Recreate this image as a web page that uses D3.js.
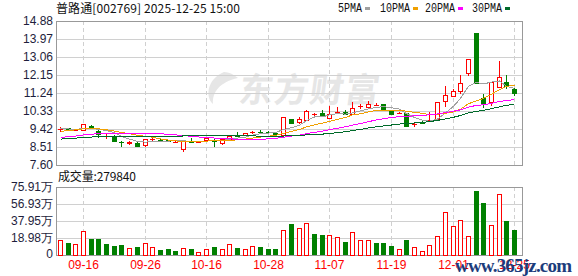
<!DOCTYPE html>
<html>
<head>
<meta charset="utf-8">
<script src="https://cdn.jsdelivr.net/npm/d3@7"></script>
<style>
  html, body { margin: 0; padding: 0; background: #fff; }
  svg { display: block; }
</style>
</head>
<body>
<div id="chart"></div>
<script>
const dates = [
  "09-11", "09-12", "09-15", "09-16", "09-17", "09-18", "09-19", "09-22", "09-23", "09-24",
  "09-25", "09-26", "09-29", "09-30", "10-09", "10-10", "10-13", "10-14", "10-15", "10-16",
  "10-17", "10-20", "10-21", "10-22", "10-23", "10-24", "10-27", "10-28", "10-29", "10-30",
  "10-31", "11-03", "11-04", "11-05", "11-06", "11-07", "11-10", "11-11", "11-12", "11-13",
  "11-14", "11-17", "11-18", "11-19", "11-20", "11-21", "11-24", "11-25", "11-26", "11-27",
  "11-28", "12-01", "12-16", "12-17", "12-18", "12-19", "12-22", "12-23", "12-24", "12-25"
];
const opens = [
  9.40, 9.46, 9.38, 9.38, 9.57, 9.32, 9.06, 9.00, 8.77, 8.71,
  8.73, 8.59, 8.90, 8.88, 8.84, 8.76, 8.42, 8.80, 8.76, 8.85,
  8.82, 8.69, 8.93, 9.13, 9.14, 9.26, 9.28, 9.27, 9.24, 9.12,
  9.92, 9.76, 9.86, 10.17, 10.21, 10.00, 10.26, 10.30, 10.20, 10.58,
  10.55, 10.65, 10.66, 10.33, 10.24, 10.22, 9.66, 9.78, 9.82, 9.95,
  10.82, 11.10, 11.36, 12.27, 14.27, 11.00, 10.77, 11.56, 11.79, 11.43
];
const highs = [
  9.50, 9.48, 9.42, 9.68, 9.61, 9.35, 9.15, 9.10, 8.80, 8.80,
  8.75, 8.92, 8.99, 8.95, 8.86, 8.80, 8.82, 8.98, 8.80, 8.98,
  8.94, 8.90, 9.10, 9.27, 9.24, 9.33, 9.35, 9.30, 9.25, 10.03,
  9.93, 10.02, 10.38, 10.25, 10.38, 10.58, 10.53, 10.38, 10.78, 10.68,
  10.85, 10.72, 10.68, 10.38, 10.30, 10.24, 9.76, 9.80, 10.30, 10.80,
  11.59, 11.45, 12.15, 12.96, 14.27, 11.19, 11.80, 12.86, 12.15, 11.47
];
const lows = [
  9.28, 9.35, 9.36, 9.35, 9.43, 8.94, 8.92, 8.78, 8.50, 8.62,
  8.55, 8.52, 8.80, 8.80, 8.74, 8.70, 8.26, 8.72, 8.74, 8.83,
  8.53, 8.62, 8.91, 9.06, 9.12, 9.17, 9.18, 9.20, 9.15, 9.08,
  9.70, 9.65, 9.84, 10.08, 10.03, 9.93, 10.16, 10.17, 10.18, 10.45,
  10.52, 10.58, 10.34, 10.15, 10.18, 9.50, 9.54, 9.68, 9.78, 9.82,
  10.55, 11.05, 11.20, 12.12, 11.70, 10.50, 10.57, 11.48, 11.42, 11.07
];
const closes = [
  9.41, 9.37, 9.39, 9.66, 9.45, 9.15, 9.06, 8.82, 8.75, 8.76,
  8.57, 8.89, 8.91, 8.85, 8.80, 8.76, 8.80, 8.76, 8.78, 8.96,
  8.79, 8.89, 9.09, 9.08, 9.22, 9.27, 9.26, 9.25, 9.19, 10.01,
  9.71, 9.91, 10.34, 10.17, 10.06, 10.17, 10.26, 10.20, 10.47, 10.58,
  10.68, 10.65, 10.37, 10.18, 10.24, 9.56, 9.66, 9.72, 9.88, 10.78,
  11.12, 11.33, 11.73, 12.96, 11.73, 10.75, 11.78, 12.03, 11.59, 11.23
];
const volumes = [
  164000, 134000, 119000, 264000, 179000, 179000, 119000, 100000, 112000, 74000,
  89000, 130000, 86000, 60000, 67000, 45000, 74000, 67000, 30000, 67000,
  89000, 67000, 119000, 78000, 63000, 100000, 89000, 67000, 67000, 276000,
  346000, 301000, 354000, 234000, 223000, 220000, 201000, 145000, 253000, 164000,
  164000, 134000, 134000, 102000, 63000, 164000, 86000, 48000, 108000, 212000,
  476000, 320000, 387000, 209000, 714000, 577000, 332000, 678000, 380000, 279840
];
// closes before the first day shown, only used so the averages start where the picture has them
const priorCloses = [
  8.62, 8.70, 8.75, 8.68, 8.80, 8.72, 8.66, 8.78, 8.74, 8.85,
  8.80, 8.66, 8.58, 8.64, 8.70, 8.62, 8.75, 8.68, 8.77, 8.80,
  8.95, 9.05, 9.12, 9.25, 9.38, 9.52, 9.48, 9.45, 9.39
];

const priceTicks = [7.60, 8.51, 9.42, 10.33, 11.24, 12.15, 13.06, 13.97, 14.88];
const volumeTicks = [0, 189800, 379500, 569300, 759100];
const volumeTickLabels = ["0", "18.98万", "37.95万", "56.93万", "75.91万"];
const labelIndexes = [3, 11, 19, 27, 35, 43, 51, 59];
const maPeriods = [5, 10, 20, 30];
const maNames = ["5PMA", "10PMA", "20PMA", "30PMA"];

const colors = {
  up: "#ff0000",
  down: "#008000",
  grid: "#d0d0d0",
  border: "#999999",
  text: "#1e1e3c",
  date: "#ff0000",
  ma: ["#a0a0a0", "#f0a000", "#ff00ff", "#006a2a"],
  watermark: "#e6e6e6",
};

const layout = {
  width: 578,
  height: 276,
  left: 56,
  right: 522,
  barsRight: 518,
  priceTop: 21,
  priceBottom: 165,
  volTop: 187,
  volBottom: 255,
  bodyWidth: 5,
};

const svg = d3.select("#chart").append("svg")
  .attr("width", layout.width)
  .attr("height", layout.height)
  .style("font-family", "'Liberation Sans', Arial, sans-serif");

const x = d3.scaleBand()
  .domain(d3.range(dates.length))
  .range([layout.left, layout.barsRight]);
const cx = (i) => Math.round(x(i) + x.bandwidth() / 2);

const y = d3.scaleLinear()
  .domain([priceTicks[0], priceTicks[priceTicks.length - 1]])
  .range([layout.priceBottom, layout.priceTop]);
const yv = d3.scaleLinear()
  .domain([0, volumeTicks[volumeTicks.length - 1]])
  .range([layout.volBottom, layout.volTop]);

const px = (v) => Math.round(v) + 0.5;

// moving averages over prior + shown closes
const allCloses = priorCloses.concat(closes);
const movingAverages = maPeriods.map((n) =>
  closes.map((c, i) => {
    const end = priorCloses.length + i + 1;
    return d3.mean(allCloses.slice(end - n, end));
  })
);

// volume colour follows the previous close
const volumeUp = closes.map((c, i) => {
  const prev = i === 0 ? priorCloses[priorCloses.length - 1] : closes[i - 1];
  return c >= prev;
});

// ---- watermark behind everything
svg.append("path")
  .attr("d", "M224 72 C207 79 205 97 213 104 C212 92 220 82 238 78 C233 74 229 72 224 72 Z")
  .attr("fill", colors.watermark);
svg.append("text")
  .attr("x", 238).attr("y", 102)
  .attr("fill", colors.watermark)
  .attr("font-family", "'Noto Sans CJK SC', sans-serif")
  .attr("font-weight", "bold")
  .attr("font-size", 34)
  .attr("textLength", 140)
  .attr("transform", "skewX(-8) translate(14,0)")
  .text("东方财富");

// ---- grids
function drawGrid(scale, ticks, top, bottom) {
  const g = svg.append("g").attr("shape-rendering", "crispEdges");
  g.selectAll("line.h")
    .data(ticks.slice(1, -1))
    .join("line")
    .attr("x1", layout.left).attr("x2", layout.right)
    .attr("y1", (d) => px(scale(d))).attr("y2", (d) => px(scale(d)))
    .attr("stroke", colors.grid);
  g.selectAll("line.v")
    .data(labelIndexes)
    .join("line")
    .attr("x1", (i) => cx(i) + 0.5).attr("x2", (i) => cx(i) + 0.5)
    .attr("y1", top).attr("y2", bottom)
    .attr("stroke", colors.grid)
    .attr("stroke-dasharray", "4,3");
  g.append("rect")
    .attr("x", layout.left + 0.5).attr("y", top + 0.5)
    .attr("width", layout.right - layout.left).attr("height", bottom - top)
    .attr("fill", "none")
    .attr("stroke", colors.border);
}
drawGrid(y, priceTicks, layout.priceTop, layout.priceBottom);
drawGrid(yv, volumeTicks, layout.volTop, layout.volBottom);

// ---- axis labels
svg.append("g")
  .selectAll("text")
  .data(priceTicks)
  .join("text")
  .attr("x", 53).attr("y", (d) => y(d))
  .attr("dy", "0.35em")
  .attr("text-anchor", "end")
  .attr("font-size", 12)
  .attr("fill", colors.text)
  .text((d) => d.toFixed(2));

svg.append("g")
  .selectAll("text")
  .data(volumeTicks)
  .join("text")
  .attr("x", 53).attr("y", (d) => yv(d) - (d === 0 ? 1 : 0))
  .attr("dy", "0.35em")
  .attr("text-anchor", "end")
  .attr("font-size", 12)
  .attr("fill", colors.text)
  .text((d, i) => volumeTickLabels[i]);

svg.append("g")
  .selectAll("text")
  .data(labelIndexes)
  .join("text")
  .attr("x", (i) => cx(i) + 0.5).attr("y", 269)
  .attr("text-anchor", "middle")
  .attr("font-size", 12)
  .attr("fill", colors.date)
  .text((i) => dates[i]);

// ---- candles
const candles = svg.append("g").attr("shape-rendering", "crispEdges");
dates.forEach((d, i) => {
  const up = closes[i] >= opens[i];
  const c = up ? colors.up : colors.down;
  const xc = cx(i) + 0.5;
  const yTop = Math.round(y(Math.max(opens[i], closes[i])));
  const yBot = Math.round(y(Math.min(opens[i], closes[i])));
  const yHi = Math.round(y(highs[i]));
  const yLo = Math.round(y(lows[i]));
  const half = Math.floor(layout.bodyWidth / 2);

  if (yBot - yTop < 1) {
    candles.append("line")
      .attr("x1", xc).attr("x2", xc).attr("y1", yHi).attr("y2", yLo)
      .attr("stroke", c);
    candles.append("line")
      .attr("x1", xc - half - 0.5).attr("x2", xc + half + 0.5)
      .attr("y1", yTop + 0.5).attr("y2", yTop + 0.5)
      .attr("stroke", c);
  } else if (up) {
    candles.append("line")
      .attr("x1", xc).attr("x2", xc).attr("y1", yHi).attr("y2", yTop)
      .attr("stroke", c);
    candles.append("line")
      .attr("x1", xc).attr("x2", xc).attr("y1", yBot).attr("y2", yLo)
      .attr("stroke", c);
    candles.append("rect")
      .attr("x", xc - half).attr("y", yTop + 0.5)
      .attr("width", half * 2).attr("height", yBot - yTop)
      .attr("fill", "#fff").attr("stroke", c);
  } else {
    candles.append("line")
      .attr("x1", xc).attr("x2", xc).attr("y1", yHi).attr("y2", yLo)
      .attr("stroke", c);
    candles.append("rect")
      .attr("x", xc - half - 0.5).attr("y", yTop)
      .attr("width", layout.bodyWidth).attr("height", yBot - yTop + 1)
      .attr("fill", c);
  }
});

// ---- moving average lines
const maLine = (values) => d3.line()
  .x((d, i) => cx(i) + 0.5)
  .y((d) => y(d))(values);

svg.append("g")
  .selectAll("path")
  .data(movingAverages)
  .join("path")
  .attr("d", (values) => maLine(values))
  .attr("fill", "none")
  .attr("stroke", (d, k) => colors.ma[k])
  .attr("stroke-width", 1)
  .attr("shape-rendering", "crispEdges");

// ---- volume bars
const bars = svg.append("g").attr("shape-rendering", "crispEdges");
volumes.forEach((v, i) => {
  const xc = cx(i) + 0.5;
  const top = Math.round(yv(v));
  const half = Math.floor(layout.bodyWidth / 2);
  if (volumeUp[i]) {
    bars.append("rect")
      .attr("x", xc - half).attr("y", top + 0.5)
      .attr("width", half * 2).attr("height", layout.volBottom - top - 0.5)
      .attr("fill", "#fff").attr("stroke", colors.up);
  } else {
    bars.append("rect")
      .attr("x", xc - half - 0.5).attr("y", top)
      .attr("width", layout.bodyWidth).attr("height", layout.volBottom - top)
      .attr("fill", colors.down);
  }
});

// ---- titles and legend
svg.append("text")
  .attr("x", 56).attr("y", 13)
  .attr("font-family", "'Noto Sans CJK SC', sans-serif")
  .attr("font-size", 12)
  .attr("fill", "#111")
  .attr("textLength", 184)
  .text("普路通[002769] 2025-12-25 15:00");

svg.append("text")
  .attr("x", 58).attr("y", 181)
  .attr("font-family", "'Noto Sans CJK SC', sans-serif")
  .attr("font-size", 12)
  .attr("fill", "#111")
  .attr("textLength", 78)
  .text("成交量:" + volumes[volumes.length - 1]);

const legendX = [338, 380, 425, 472];
const legend = svg.append("g")
  .selectAll("g")
  .data(maNames)
  .join("g")
  .attr("transform", (d, k) => `translate(${legendX[k]},0)`);
legend.append("text")
  .attr("y", 12)
  .attr("font-family", "'Liberation Mono', monospace")
  .attr("font-size", 12)
  .attr("fill", "#111")
  .attr("textLength", (d) => d.length * 6)
  .attr("lengthAdjust", "spacingAndGlyphs")
  .text((d) => d);
legend.append("rect")
  .attr("x", (d) => d.length * 6 + 3).attr("y", 7)
  .attr("width", 5).attr("height", 3)
  .attr("fill", (d, k) => colors.ma[k]);

// ---- site watermark bottom right
svg.append("text")
  .attr("x", 455).attr("y", 272)
  .attr("font-family", "'Liberation Serif', serif")
  .attr("font-weight", "bold")
  .attr("font-size", 19)
  .attr("fill", "#1c3c7c")
  .attr("textLength", 117)
  .text("www.365jz.com");
</script>
</body>
</html>
